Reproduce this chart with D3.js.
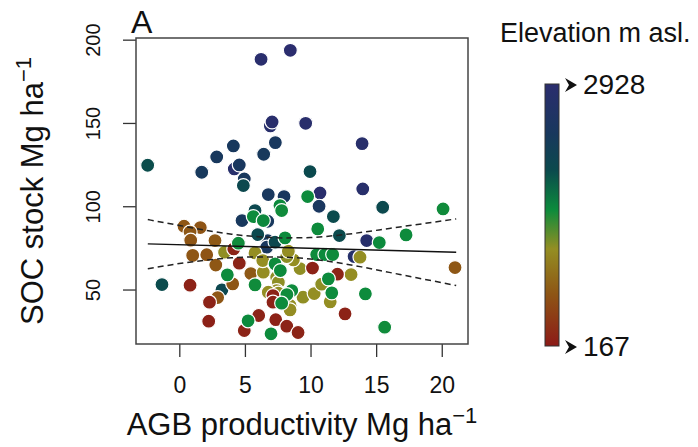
<!DOCTYPE html>
<html>
<head>
<meta charset="utf-8">
<script src="https://cdn.jsdelivr.net/npm/d3@7"></script>
<style>
  body { margin: 0; background: #fff; }
  svg { display: block; font-family: "Liberation Sans", Arial, sans-serif; }
</style>
</head>
<body>
<svg id="chart" width="698" height="447"></svg>
<script>
// AGB productivity (x), SOC stock (y), elevation (colour) per plot
const agb = [
  6.23, 8.46, 6.94, 7.07, 9.63, 13.93, 4.19, 10.72, 13.98, 14.28, 13.32,
  7.32, 4.12, 6.43, 2.85, 4.57, 1.71, 4.95, 6.78, 7.98, 10.65, 4.78, 6.74, 6.66, 6.74,
  -2.41, 9.96, 4.88, 11.74, 15.5, 5.77, 12.2, 5.98, 7.3, -1.32, 3.25,
  0.36, 1.6, 0.82, 0.87, 2.72, 1.02, 2.09, 2.78, 4.07, 2.92, 5.45, 21.01,
  13.77, 13.09, 9.2, 8.69, 8.19, 8.31, 5.77, 3.45, 6.4, 6.36, 7.42, 7.55, 7.42, 6.78, 7.55, 8.44, 8.44, 9.43, 10.28, 10.85, 11.5,
  4.15, 4.57, 0.82, 2.3, 2.24, 4.95, 6.05, 7.35, 8.19, 9.05, 7.14, 7.14, 10.15, 12.05, 12.63,
  9.78, 7.67, 7.8, 5.64, 6.4, 10.55, 8.06, 4.5, 10.47, 11.1, 11.69, 20.1, 17.28, 15.24, 14.18, 15.65, 11.62, 11.36, 3.66, 5.77, 7.3, 7.7, 8.57, 8.2, 7.8, 5.24, 6.99
];
const soc = [
  188.2, 193.6, 148.2, 150.6, 149.8, 137.6, 122.4, 108, 110.4, 79.4, 69.8,
  138.2, 136.2, 131.2, 129.6, 124.8, 120.4, 116.4, 107, 105.8, 100, 91.4, 79.4, 75.4, 91,
  124.6, 120.8, 112.4, 93.8, 99.4, 97.4, 82.4, 83, 78.4, 53, 49.8,
  88, 87.2, 84.5, 79.6, 79.4, 70.5, 70.9, 64.7, 53.4, 45.2, 59.6, 63.2,
  69.4, 59, 62.6, 67.8, 69.8, 73, 72, 72.4, 60.4, 67.4, 57.4, 54.4, 49.4, 48.4, 47.8, 40.4, 37.8, 45.4, 47.6, 53.2, 42.6,
  74.4, 65.8, 52.6, 42.4, 31, 25.4, 34.4, 31.9, 28, 24.2, 46.4, 42.4, 62.9, 59.2, 35.4,
  105.8, 100.4, 97.4, 93.8, 91.4, 86.4, 81, 77.8, 71, 71, 71, 98.4, 82.8, 78.2, 47.4, 27.4, 48, 56.4, 58.8, 52.8, 65.4, 61.4, 49.4, 47, 41.8, 31.2, 23.4
];
const elev = [
  2900, 2928, 2850, 2880, 2860, 2840, 2820, 2870, 2850, 2830, 2800,
  2420, 2400, 2390, 2410, 2430, 2380, 2400, 2420, 2440, 2450, 2400, 2380, 2420, 2400,
  2000, 2030, 2050, 2010, 2040, 2060, 2020, 2030, 2050, 2010, 2070,
  720, 700, 730, 710, 740, 720, 700, 730, 710, 720, 740, 730,
  1190, 1180, 1200, 1190, 1210, 1180, 1190, 1200, 1170, 1190, 1200, 1210, 1180, 1190, 1200, 1190, 1180, 1200, 1190, 1210, 1190,
  250, 260, 240, 250, 230, 260, 250, 240, 250, 260, 250, 240, 250, 260, 240,
  1600, 1610, 1590, 1600, 1620, 1600, 1610, 1590, 1600, 1610, 1600, 1590, 1600, 1610, 1600, 1590, 1600, 1610, 1600, 1590, 1600, 1610, 1600, 1590, 1600, 1610, 1600
];

// fitted line and 95% band
const fitX = [-2.4, 21.1];
const fitY = [77.4, 72.4];
const bandX = [-2.4, 0, 2, 4, 6, 8, 10, 12, 14, 16, 18, 21.1];
const bandUpper = [92.0, 88.5, 85.6, 83.2, 81.7, 81.0, 81.2, 82.5, 84.4, 86.7, 88.9, 92.4];
const bandLower = [62.4, 65.6, 67.6, 69.1, 69.6, 69.4, 68.3, 66.2, 63.4, 60.3, 57.2, 52.4];

const xTicks = [0, 5, 10, 15, 20];
const yTicks = [50, 100, 150, 200];

// colour ramp of the elevation legend
const elevStops = [167, 719, 1189, 1603, 2017, 2403, 2928];
const elevColors = ["#8c1a17", "#8e5615", "#948e23", "#0c8b3c", "#0b4a4d", "#18385d", "#2b2d6e"];
const elevRange = [167, 2928];

const svg = d3.select("#chart");
const box = { left: 136, right: 468, top: 38, bottom: 344 };

const x = d3.scaleLinear().domain([-3.3, 22.0]).range([box.left, box.right]);
const y = d3.scaleLinear().domain([17.3, 201]).range([box.bottom, box.top]);
const color = d3.scaleLinear().domain(elevStops).range(elevColors).clamp(true);

// axes, R style: ticks out of the box, labels detached
const xAxis = svg.append("g")
  .attr("transform", `translate(0,${box.bottom})`)
  .call(d3.axisBottom(x).tickValues(xTicks).tickSize(13).tickPadding(0).tickFormat(d3.format("d")));
xAxis.select(".domain").remove();
xAxis.selectAll("line").attr("stroke", "#333").attr("stroke-width", 1.3);
xAxis.selectAll("text")
  .attr("y", 49).attr("dy", null)
  .attr("fill", "#111")
  .style("font-size", "23px");

const yAxis = svg.append("g")
  .attr("transform", `translate(${box.left},0)`)
  .call(d3.axisLeft(y).tickValues(yTicks).tickSize(13).tickFormat(d3.format("d")));
yAxis.select(".domain").remove();
yAxis.selectAll("line").attr("stroke", "#333").attr("stroke-width", 1.3);
yAxis.selectAll("text")
  .attr("x", null).attr("dy", null)
  .attr("text-anchor", "middle")
  .attr("transform", "translate(-36,0) rotate(-90)")
  .attr("fill", "#111")
  .style("font-size", "20px");

// points
svg.append("g")
  .selectAll("circle")
  .data(d3.range(agb.length))
  .join("circle")
  .attr("cx", i => x(agb[i]))
  .attr("cy", i => y(soc[i]))
  .attr("r", 7)
  .attr("fill", i => color(elev[i]))
  .attr("stroke", "#fff")
  .attr("stroke-width", 1.2);

// regression line and confidence band
const line = d3.line().x(d => x(d[0])).y(d => y(d[1]));
svg.append("path")
  .attr("d", line(d3.zip(fitX, fitY)))
  .attr("fill", "none").attr("stroke", "#111").attr("stroke-width", 1.4);
[bandUpper, bandLower].forEach(b => {
  svg.append("path")
    .attr("d", line.curve(d3.curveMonotoneX)(d3.zip(bandX, b)))
    .attr("fill", "none").attr("stroke", "#222").attr("stroke-width", 1.5)
    .attr("stroke-dasharray", "6,4");
});

// plot frame
svg.append("rect")
  .attr("x", box.left).attr("y", box.top)
  .attr("width", box.right - box.left).attr("height", box.bottom - box.top)
  .attr("fill", "none").attr("stroke", "#444").attr("stroke-width", 1.5);

// panel letter
svg.append("text").attr("x", 131).attr("y", 33)
  .style("font-size", "32px").attr("fill", "#111").text("A");

// axis titles
const xt = svg.append("text")
  .attr("x", (box.left + box.right) / 2).attr("y", 435)
  .attr("text-anchor", "middle").attr("fill", "#111")
  .style("font-size", "31px");
xt.append("tspan").text("AGB productivity Mg ha");
xt.append("tspan").attr("dy", -12).style("font-size", "22px").text("\u22121");

const yt = svg.append("text")
  .attr("transform", `translate(43,${(box.top + box.bottom) / 2}) rotate(-90)`)
  .attr("text-anchor", "middle").attr("fill", "#111")
  .style("font-size", "31px");
yt.append("tspan").text("SOC stock Mg ha");
yt.append("tspan").attr("dy", -12).style("font-size", "22px").text("\u22121");

// elevation colour bar
const ly = d3.scaleLinear().domain(elevRange).range([346, 84]);
const defs = svg.append("defs");
const grad = defs.append("linearGradient")
  .attr("id", "elev-grad")
  .attr("x1", "0%").attr("y1", "100%").attr("x2", "0%").attr("y2", "0%");
elevStops.forEach(e => {
  grad.append("stop")
    .attr("offset", `${(e - elevRange[0]) / (elevRange[1] - elevRange[0]) * 100}%`)
    .attr("stop-color", color(e));
});
svg.append("rect")
  .attr("x", 545).attr("y", ly(elevRange[1]))
  .attr("width", 14).attr("height", ly(elevRange[0]) - ly(elevRange[1]))
  .attr("fill", "url(#elev-grad)")
  .attr("stroke", "#333").attr("stroke-width", 1);

svg.append("text").attr("x", 500).attr("y", 42)
  .style("font-size", "27px").attr("fill", "#111").text("Elevation m asl.");

elevRange.forEach(e => {
  svg.append("path")
    .attr("transform", `translate(565,${ly(e) + 1})`)
    .attr("d", "M0,-7 L12,0 L0,7 L4,0 Z")
    .attr("fill", "#111");
  svg.append("text")
    .attr("x", 583).attr("y", ly(e) + 10)
    .style("font-size", "28px").attr("fill", "#111")
    .text(e);
});
</script>
</body>
</html>
